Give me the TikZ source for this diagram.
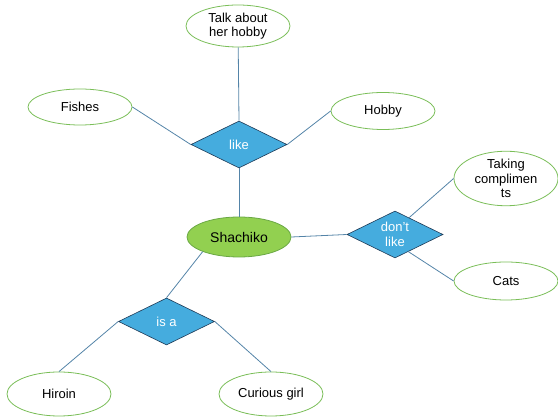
\documentclass[tikz,border=0pt]{standalone}
\usepackage{fontspec}
\setmainfont{Liberation Sans}
\usetikzlibrary{shapes.geometric}
\definecolor{lineblue}{RGB}{84,132,168}
\definecolor{diafill}{RGB}{69,172,222}
\definecolor{diadraw}{RGB}{30,58,86}
\definecolor{ovaldraw}{RGB}{122,190,88}
\definecolor{mainfill}{RGB}{146,208,80}
\definecolor{maindraw}{RGB}{106,168,68}
\begin{document}
\begin{tikzpicture} [x = 1pt, y = -1pt,
    oval/.style = {ellipse, draw = ovaldraw, fill = white, line width = 0.8pt, inner sep = 0pt,
        minimum width = 104pt, minimum height = 40pt, align = center,
        font = \fontsize{13}{14.5}\selectfont},
    relation/.style = {diamond, draw = diadraw, fill = diafill, line width = 0.6pt, inner sep = 0pt,
        aspect = 2, minimum width = 96pt, minimum height = 47pt, align = center, text = white,
        font = \fontsize{13}{15}\selectfont},
    link/.style = {lineblue, line width = 0.8pt}]
\useasboundingbox (0, 0) rectangle (558, 419);
\node[oval, minimum height = 42pt] (talk) at (238, 26){Talk about\\her hobby};
\node[oval, minimum height = 36pt] (fishes) at (80, 107){Fishes};
\node[oval, minimum height = 37pt] (hobby) at (383, 111){Hobby};
\node[relation] (like) at (239, 144.5){like};
\node[oval, fill = mainfill, draw = maindraw, font = \fontsize{14}{16}\selectfont] (shachiko) at (239, 237){Shachiko};
\node[relation] (dontlike) at (395, 234.5){don't\\like};
\node[oval, minimum height = 43pt] (taking) at (506, 178.5){Taking\\complimen\\ts};
\node[oval, minimum height = 38pt] (cats) at (506, 281){Cats};
\node[relation] (isa) at (166.5, 321.5){is a};
\node[oval, minimum height = 44pt] (hiroin) at (59, 394){Hiroin};
\node[oval, minimum height = 44pt] (curious) at (271, 394){Curious girl};
\draw[link] (talk) -- (like.north);
\draw[link] (fishes.east) -- (like.west);
\draw[link] (hobby.west) -- (like.east);
\draw[link] (like.south) -- (shachiko);
\draw[link] (shachiko.east) -- (dontlike.west);
\draw[link] (dontlike.50) -- (taking.west);
\draw[link] (dontlike.-52) -- (cats.west);
\draw[link] (shachiko.202) -- (isa.north);
\draw[link] (isa.west) -- (hiroin.north);
\draw[link] (isa.east) -- (curious.north);
\end{tikzpicture}
\end{document}
